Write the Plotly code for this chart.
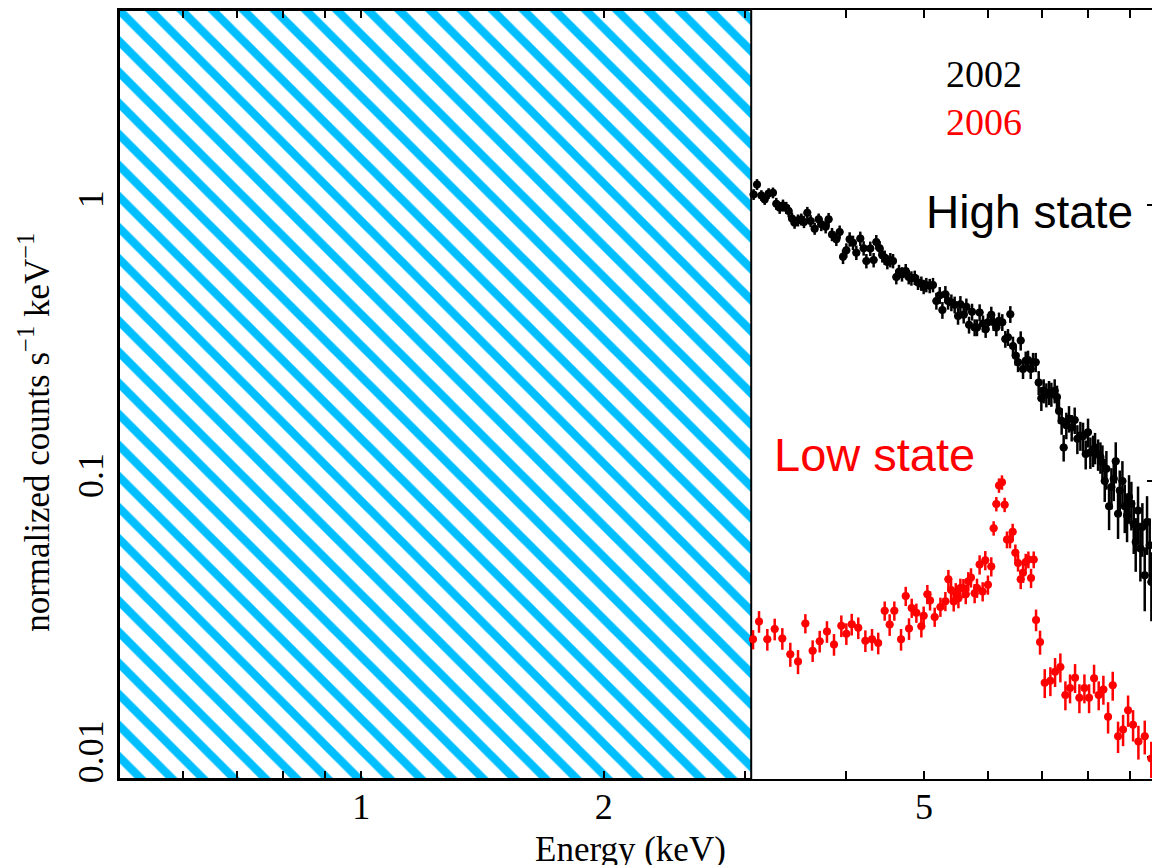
import math
import plotly.graph_objects as go

# ---------------- data ----------------
e2002 = [3.071, 3.101, 3.140, 3.170, 3.206, 3.246, 3.277, 3.309, 3.340, 3.372,
         3.395, 3.427, 3.453, 3.487, 3.520, 3.547, 3.581, 3.615, 3.657, 3.699,
         3.727, 3.774, 3.806, 3.843, 3.891, 3.928, 3.966, 4.004, 4.042, 4.081,
         4.120, 4.167, 4.207, 4.240, 4.288, 4.329, 4.362, 4.404, 4.438, 4.468,
         4.502, 4.541, 4.576, 4.619, 4.655, 4.695, 4.745, 4.786, 4.823, 4.869,
         4.915, 4.962, 4.995, 5.033, 5.082, 5.130, 5.180, 5.230, 5.270, 5.315,
         5.356, 5.407, 5.458, 5.511, 5.548, 5.601, 5.644, 5.687, 5.736, 5.779,
         5.818, 5.862, 5.919, 5.964, 6.003, 6.061, 6.102, 6.149, 6.196, 6.255,
         6.309, 6.357, 6.400, 6.449, 6.499, 6.543, 6.593, 6.637, 6.688, 6.733,
         6.784, 6.830, 6.882, 6.941, 6.994, 7.041, 7.095, 7.149, 7.197, 7.266,
         7.314, 7.356, 7.412, 7.455, 7.512, 7.570, 7.628, 7.694, 7.753, 7.820,
         7.880, 7.940, 7.993, 8.047, 8.109, 8.155, 8.226, 8.281,
         8.329, 8.384, 8.424, 8.489, 8.546, 8.603, 8.652, 8.710, 8.752, 8.819,
         8.878, 8.937, 8.988, 9.048, 9.109, 9.161, 9.222, 9.284, 9.337, 9.400,
         9.463, 9.535, 9.581, 9.645, 9.719, 9.793]
f2002 = [1.088, 1.183, 1.079, 1.044, 1.097, 1.103, 1.007, 0.974, 0.993, 0.974,
         0.947, 0.891, 0.860, 0.877, 0.884, 0.865, 0.934, 0.872, 0.818, 0.884,
         0.848, 0.832, 0.884, 0.780, 0.749, 0.796, 0.648, 0.683, 0.749, 0.728,
         0.670, 0.753, 0.695, 0.625, 0.693, 0.630, 0.732, 0.695, 0.656, 0.643,
         0.620, 0.630, 0.625, 0.547, 0.571, 0.560, 0.575, 0.547, 0.541, 0.544,
         0.522, 0.518, 0.504, 0.512, 0.508, 0.512, 0.448, 0.470, 0.415, 0.474,
         0.448, 0.442, 0.434, 0.395, 0.436, 0.399, 0.427, 0.367, 0.409, 0.359,
         0.359, 0.407, 0.371, 0.354, 0.375, 0.399, 0.375, 0.359, 0.380, 0.375,
         0.326, 0.331, 0.401, 0.308, 0.284, 0.269, 0.322, 0.254, 0.272, 0.274,
         0.254, 0.269, 0.269, 0.227, 0.199, 0.212, 0.205, 0.209, 0.206, 0.212,
         0.201, 0.179, 0.165, 0.132, 0.159, 0.168, 0.156, 0.166, 0.142, 0.146,
         0.145, 0.125, 0.150, 0.127, 0.129, 0.132, 0.125, 0.122,
         0.1169, 0.0999, 0.1106, 0.0809, 0.0950, 0.1018, 0.1179, 0.0761, 0.0924, 0.0999,
         0.0809, 0.0750, 0.0874, 0.0827, 0.0697, 0.0601, 0.0782, 0.0569, 0.0681, 0.0456,
         0.0710, 0.0585, 0.0431, 0.0505, 0.0431, 0.0402]
rerr2002 = [0.045, 0.045, 0.045, 0.045, 0.045, 0.045, 0.05, 0.05, 0.05, 0.05,
            0.05, 0.05, 0.05, 0.05, 0.05, 0.05, 0.05, 0.05, 0.05, 0.05,
            0.055, 0.055, 0.055, 0.055, 0.055, 0.055, 0.06, 0.06, 0.06, 0.06,
            0.06, 0.06, 0.06, 0.06, 0.06, 0.06, 0.06, 0.06, 0.06, 0.06,
            0.06, 0.06, 0.06, 0.06, 0.06, 0.06, 0.06, 0.06, 0.06, 0.06,
            0.06, 0.06, 0.06, 0.06, 0.06, 0.06, 0.07, 0.07, 0.07, 0.07,
            0.07, 0.07, 0.07, 0.07, 0.07, 0.07, 0.07, 0.07, 0.07, 0.07,
            0.07, 0.07, 0.07, 0.07, 0.07, 0.07, 0.07, 0.07, 0.07, 0.07,
            0.07, 0.07, 0.07, 0.08, 0.08, 0.08, 0.08, 0.08, 0.08, 0.08,
            0.08, 0.08, 0.08, 0.10, 0.10, 0.10, 0.10, 0.10, 0.10, 0.10,
            0.10, 0.10, 0.11, 0.11, 0.11, 0.11, 0.11, 0.11, 0.12, 0.12,
            0.12, 0.12, 0.12, 0.13, 0.13, 0.13, 0.13, 0.13,
            0.15, 0.16, 0.16, 0.18, 0.17, 0.17, 0.17, 0.19, 0.18, 0.18,
            0.20, 0.20, 0.20, 0.20, 0.22, 0.22, 0.22, 0.24, 0.22, 0.26,
            0.24, 0.25, 0.28, 0.26, 0.28, 0.30]

e2006 = [3.066, 3.119, 3.194, 3.262, 3.334, 3.411, 3.487, 3.561, 3.636, 3.710,
         3.788, 3.865, 3.947, 4.004, 4.066, 4.143, 4.228, 4.309, 4.386, 4.468,
         4.532, 4.593, 4.682, 4.745, 4.790, 4.827, 4.892, 4.962, 4.995, 5.048,
         5.087, 5.155, 5.240, 5.315, 5.361, 5.402, 5.443, 5.475, 5.517, 5.548,
         5.596, 5.634, 5.675, 5.719, 5.779, 5.818, 5.862, 5.913, 5.958, 6.003,
         6.061, 6.102, 6.149, 6.196, 6.249, 6.297, 6.339, 6.394, 6.443, 6.493,
         6.543, 6.593, 6.637, 6.688, 6.739, 6.791, 6.843, 6.889, 6.968, 7.062,
         7.177, 7.274, 7.385, 7.492, 7.592, 7.702, 7.798, 7.911, 8.017, 8.132,
         8.241, 8.352, 8.465, 8.578, 8.710, 8.836, 8.963, 9.092, 9.232, 9.401,
         9.579, 9.736]
f2006 = [0.0267, 0.0310, 0.0267, 0.0291, 0.0269, 0.0236, 0.0222, 0.0305, 0.0243, 0.0263,
         0.0285, 0.0256, 0.0299, 0.0280, 0.0303, 0.0294, 0.0264, 0.0267, 0.0259, 0.0339,
         0.0302, 0.0339, 0.0267, 0.0383, 0.0292, 0.0347, 0.0333, 0.0298, 0.0325, 0.0389,
         0.0369, 0.0322, 0.0350, 0.0367, 0.0441, 0.0403, 0.0366, 0.0395, 0.0376, 0.0410,
         0.0409, 0.0389, 0.0433, 0.0447, 0.0392, 0.0410, 0.0498, 0.0398, 0.0516, 0.0421,
         0.0490, 0.0674, 0.0825, 0.0963, 0.0988, 0.0820, 0.0613, 0.0613, 0.0654, 0.0550,
         0.0505, 0.0441, 0.0465, 0.0509, 0.0519, 0.0445, 0.0519, 0.0314, 0.0261, 0.0186,
         0.0189, 0.0204, 0.0212, 0.0168, 0.0178, 0.0194, 0.0164, 0.0178, 0.0164, 0.0193,
         0.0168, 0.0176, 0.0140, 0.0182, 0.0119, 0.0126, 0.0148, 0.0131, 0.0114, 0.0119,
         0.0099, 0.0097]
rerr2006 = [0.08, 0.09, 0.09, 0.09, 0.09, 0.10, 0.10, 0.08, 0.09, 0.09,
            0.09, 0.09, 0.09, 0.09, 0.09, 0.09, 0.09, 0.09, 0.09, 0.08,
            0.09, 0.08, 0.09, 0.08, 0.09, 0.08, 0.08, 0.09, 0.08, 0.08,
            0.08, 0.08, 0.08, 0.08, 0.08, 0.08, 0.08, 0.08, 0.08, 0.08,
            0.08, 0.08, 0.08, 0.08, 0.08, 0.08, 0.08, 0.08, 0.08, 0.08,
            0.08, 0.06, 0.06, 0.06, 0.06, 0.06, 0.07, 0.07, 0.07, 0.07,
            0.07, 0.08, 0.08, 0.07, 0.07, 0.08, 0.07, 0.09, 0.10, 0.12,
            0.12, 0.12, 0.12, 0.12, 0.12, 0.12, 0.12, 0.12, 0.12, 0.12,
            0.12, 0.12, 0.13, 0.12, 0.13, 0.13, 0.13, 0.13, 0.14, 0.14,
            0.15, 0.15]

x_range_kev = [0.5, 9.82]
y_range_counts = [0.00834, 5.06]
excluded_band_kev = [0.5, 3.05]

x_tickvals = [1, 2, 5]
x_ticktext = ["1", "2", "5"]
x_minor_ticks = [0.6, 0.7, 0.8, 0.9, 3, 4, 6, 7, 8, 9]
y_tickvals = [0.01, 0.1, 1]
y_ticktext = ["0.01", "0.1", "1"]
y_minor_ticks = [0.009, 0.02, 0.03, 0.04, 0.05, 0.06, 0.07, 0.08, 0.09,
                 0.2, 0.3, 0.4, 0.5, 0.6, 0.7, 0.8, 0.9, 2, 3, 4, 5]

# ---------------- figure ----------------
SERIF = "Liberation Serif, Times New Roman, serif"
SANS = "Liberation Sans, Arial, sans-serif"

fig = go.Figure()

# hatched excluded energy band
fig.add_trace(go.Scatter(
    x=[excluded_band_kev[0], excluded_band_kev[1], excluded_band_kev[1],
       excluded_band_kev[0], excluded_band_kev[0]],
    y=[y_range_counts[0], y_range_counts[0], y_range_counts[1],
       y_range_counts[1], y_range_counts[0]],
    mode="lines", fill="toself",
    line=dict(color="black", width=2),
    fillcolor="white",
    fillpattern=dict(shape="\\", fgcolor="#00BFFF", bgcolor="white",
                     fgopacity=1, size=22, solidity=0.38),
    hoverinfo="skip", showlegend=False,
))


def add_spec(e, f, rerr, color):
    fig.add_trace(go.Scatter(
        x=e, y=f, mode="markers",
        marker=dict(color=color, size=8, line=dict(width=0)),
        error_y=dict(type="data", array=[v * r for v, r in zip(f, rerr)],
                     color=color, thickness=2.5, width=0),
        error_x=dict(type="percent", value=1.1, color=color,
                     thickness=2, width=0),
        showlegend=False,
    ))


add_spec(e2002, f2002, rerr2002, "black")
add_spec(e2006, f2006, rerr2006, "#FF0000")

fig.update_layout(
    width=1160, height=865,
    margin=dict(l=111, r=8, t=0, b=94, pad=0),
    paper_bgcolor="white", plot_bgcolor="white",
    font=dict(family=SERIF, color="black", size=36),
    xaxis=dict(
        type="log", range=[math.log10(x_range_kev[0]), math.log10(x_range_kev[1])],
        showgrid=False, zeroline=False,
        showline=True, linecolor="black", linewidth=2, mirror="ticks",
        ticks="inside", ticklen=8, tickwidth=2, tickcolor="black",
        tickmode="array", tickvals=x_tickvals, ticktext=x_ticktext,
        tickfont=dict(family=SERIF, size=36, color="black"),
        ticklabelstandoff=-5,
        minor=dict(tickmode="array", tickvals=x_minor_ticks, ticks="inside",
                   ticklen=8, tickwidth=2, tickcolor="black", showgrid=False),
    ),
    yaxis=dict(
        type="log", range=[math.log10(y_range_counts[0]), math.log10(y_range_counts[1])],
        showgrid=False, zeroline=False,
        showline=True, linecolor="black", linewidth=2, mirror="ticks",
        ticks="inside", ticklen=13, tickwidth=2, tickcolor="black",
        tickmode="array", tickvals=y_tickvals, ticktext=y_ticktext,
        tickangle=-90,
        tickfont=dict(family=SERIF, size=36, color="black"),
        minor=dict(tickmode="array", tickvals=y_minor_ticks, ticks="inside",
                   ticklen=5, tickwidth=1.5, tickcolor="black", showgrid=False),
        layer="below traces",
    ),
    annotations=[
        dict(text="Energy (keV)", xref="paper", yref="paper",
             x=0.4918, y=-0.092, xanchor="center", yanchor="middle",
             showarrow=False, font=dict(family=SERIF, size=35, color="black")),
        dict(text="normalized counts s<sup>−1</sup> keV<sup>−1</sup>",
             xref="paper", yref="paper", x=-0.081, y=0.451,
             xanchor="center", yanchor="middle", textangle=-90,
             showarrow=False, font=dict(family=SERIF, size=35, color="black")),
        dict(text="2002", xref="paper", yref="paper", x=0.831, y=0.917,
             xanchor="center", yanchor="middle", showarrow=False,
             font=dict(family=SERIF, size=38, color="black")),
        dict(text="2006", xref="paper", yref="paper", x=0.831, y=0.855,
             xanchor="center", yanchor="middle", showarrow=False,
             font=dict(family=SERIF, size=38, color="#FF0000")),
        dict(text="High state", xref="paper", yref="paper", x=0.875, y=0.737,
             xanchor="center", yanchor="middle", showarrow=False,
             font=dict(family=SANS, size=46, color="black")),
        dict(text="Low state", xref="paper", yref="paper", x=0.726, y=0.4215,
             xanchor="center", yanchor="middle", showarrow=False,
             font=dict(family=SANS, size=47, color="#FF0000")),
    ],
)

fig.write_html("out.html")
